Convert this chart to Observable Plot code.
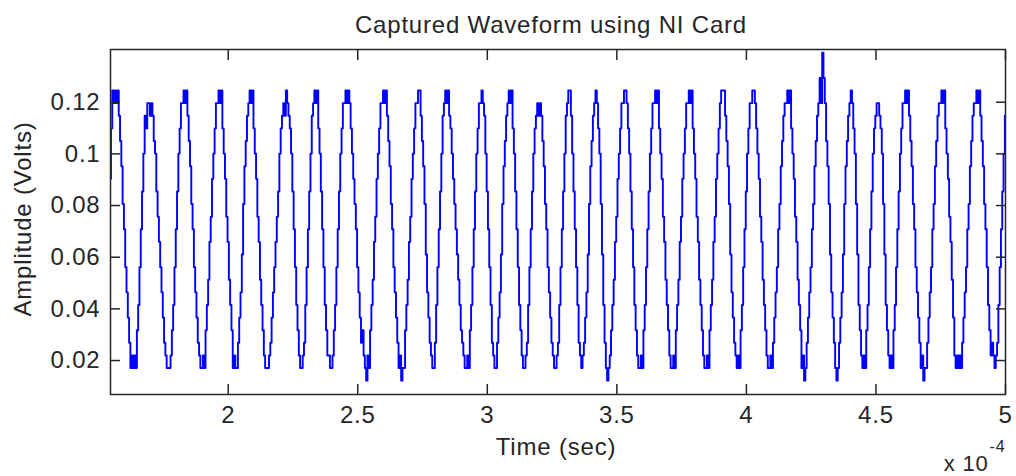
<!DOCTYPE html>
<html><head><meta charset="utf-8">
<script src="https://cdn.jsdelivr.net/npm/d3@7"></script>
<script src="https://cdn.jsdelivr.net/npm/@observablehq/plot@0.6"></script>
<style>
html,body{margin:0;padding:0;background:#fff;}
#chart svg text{letter-spacing:0.8px;}
</style></head><body><div id="chart"></div>
<script>
const title = "Captured Waveform using NI Card";
const xLabel = "Time (sec)";
const yLabel = "Amplitude (Volts)";
const xExponentBase = "x 10";
const xExponent = "-4";
const xTicks = [2, 2.5, 3, 3.5, 4, 4.5, 5];
const xTickLabels = ["2", "2.5", "3", "3.5", "4", "4.5", "5"];
const yTicks = [0.02, 0.04, 0.06, 0.08, 0.1, 0.12];
const yTickLabels = ["0.02", "0.04", "0.06", "0.08", "0.1", "0.12"];
const xDomain = [1.5457, 5.0];
const yDomain = [0.00685, 0.1404];
// sample clock (time in units of 1e-4 s)
const sampleStart = 1.545;
const samplePeriod = 0.005;
// ADC step (12-bit, +/-10 V)
const adcStep = 20 / 4096;
// captured ADC codes
const adcCodes = [
18,22,25,24,25,
24,25,23,21,19,16,14,11,9,7,5,3,4,3,
4,3,6,8,11,14,17,20,23,22,24,24,
23,24,23,21,20,17,15,13,11,9,7,5,4,3,3,
3,4,6,8,11,14,17,20,22,24,24,25,
24,25,23,21,19,16,14,11,9,7,5,4,3,3,
4,3,6,8,10,13,15,18,20,22,24,24,25,
24,25,22,20,18,15,13,10,8,6,3,4,3,
3,5,7,9,12,16,19,21,23,24,25,
24,25,22,20,18,15,13,10,8,6,4,3,3,
3,4,5,7,9,11,13,15,17,20,22,23,24,23,25,
24,23,22,20,17,14,11,8,6,4,3,3,
4,5,8,11,14,17,20,23,24,25,
24,25,22,20,17,14,11,8,6,4,4,3,
3,4,6,8,11,14,17,20,22,24,24,25,
24,25,24,22,20,18,16,14,11,9,7,5,6,4,3,2,
4,3,6,8,10,13,15,18,20,22,24,24,25,
24,25,23,21,19,16,14,11,9,7,5,3,4,2,
3,3,6,8,10,13,15,18,20,22,24,24,25,
25,23,21,19,16,12,9,7,5,4,3,
3,5,8,11,14,17,20,23,24,25,
24,25,23,22,20,18,16,14,12,10,8,6,5,4,3,3,
4,3,6,8,11,14,17,20,22,24,24,25,
24,23,20,17,14,11,8,5,4,3,
3,5,7,9,12,16,19,21,23,24,25,
24,25,22,20,17,14,11,8,6,4,3,3,
4,5,8,11,14,17,20,22,23,24,
23,24,23,21,19,16,14,11,9,7,5,4,3,3,
4,5,8,11,14,17,20,23,24,25,
25,23,20,17,14,11,8,5,4,3,
4,5,7,9,12,16,19,21,23,24,25,
24,22,20,16,12,8,5,3,2,
3,4,6,8,10,13,15,18,20,22,24,24,25,
25,24,22,20,17,14,11,8,6,4,3,3,
4,3,6,8,11,14,17,20,22,24,24,25,
24,25,22,20,18,15,13,10,8,6,4,3,3,
4,3,6,8,10,13,15,18,20,22,24,24,25,
24,25,22,20,18,15,13,10,8,6,4,3,3,
4,3,6,8,10,13,15,18,20,22,24,25,25,
25,23,21,19,16,12,9,7,5,4,3,
4,3,6,8,11,14,17,20,22,24,24,25,
25,24,22,20,18,15,13,10,8,6,4,3,3,
4,3,5,7,9,11,14,16,19,21,23,24,24,25,
24,25,22,20,18,15,13,10,8,6,3,4,2,
3,5,7,9,11,14,16,19,21,23,24,26,24,28,
26,24,21,19,16,12,9,7,5,3,2,
3,5,7,9,12,16,19,21,23,24,25,
24,22,20,16,12,8,6,4,3,
4,3,6,8,11,14,17,20,22,23,24,24,
23,22,20,16,12,8,6,4,3,
4,3,6,8,11,14,17,20,22,24,24,25,
24,25,23,21,19,16,14,11,9,7,5,3,4,2,
3,3,5,7,9,11,14,16,19,21,23,24,24,25,
24,25,22,20,18,15,13,10,7,4,3,4,3,
4,3,5,7,9,11,14,16,19,21,23,24,24,25,
24,25,23,21,19,16,14,11,8,6,4,5,4,3,
4,5,8,11,14,17,20,23
];

const samples = adcCodes.map((c, i) => ({t: sampleStart + i * samplePeriod, v: (c + 0.5) * adcStep}));
const ink = "#262626";

const chart = Plot.plot({
  width: 1016,
  height: 476,
  marginTop: 49,
  marginLeft: 110,
  marginRight: 11,
  marginBottom: 82,
  x: {domain: xDomain},
  y: {domain: yDomain},
  style: {fontFamily: "'Liberation Sans', Arial, sans-serif", fontSize: "24px", color: ink, background: "#fff"},
  marks: [
    Plot.line(samples, {x: "t", y: "v", stroke: "#0000ff", strokeWidth: 1.9, curve: "step", clip: true}),
    Plot.frame({stroke: ink, strokeWidth: 1.5}),
    Plot.axisX({anchor: "bottom", ticks: xTicks, tickSize: -10, tickFormat: () => "", label: null, stroke: ink, strokeWidth: 1.5}),
    Plot.axisX({anchor: "top", ticks: xTicks, tickSize: -10, tickFormat: () => "", label: null, stroke: ink, strokeWidth: 1.5}),
    Plot.axisX({anchor: "bottom", ticks: xTicks, tickSize: 0, tickPadding: 11, tickFormat: d => xTickLabels[xTicks.indexOf(d)], label: null, fontSize: 24}),
    Plot.axisY({anchor: "left", ticks: yTicks, tickSize: -10, tickFormat: () => "", label: null, stroke: ink, strokeWidth: 1.5}),
    Plot.axisY({anchor: "right", ticks: yTicks, tickSize: -10, tickFormat: () => "", label: null, stroke: ink, strokeWidth: 1.5}),
    Plot.axisY({anchor: "left", ticks: yTicks, tickSize: 0, tickPadding: 10, tickFormat: d => yTickLabels[yTicks.indexOf(d)], label: null, fontSize: 24}),
    Plot.text([title], {frameAnchor: "top", textAnchor: "middle", lineAnchor: "bottom", dx: -7, dy: -17, fontSize: 24, fill: ink}),
    Plot.text([xLabel], {frameAnchor: "bottom", textAnchor: "middle", lineAnchor: "top", dx: -2, dy: 43, fontSize: 24, fill: ink}),
    Plot.text([yLabel], {frameAnchor: "left", textAnchor: "middle", rotate: -90, lineAnchor: "bottom", dx: -80, dy: -3, fontSize: 24, fill: ink}),
    Plot.text([xExponentBase], {frameAnchor: "bottom-right", textAnchor: "end", lineAnchor: "bottom", dx: -17, dy: 76, fontSize: 22, fill: ink}),
    Plot.text([xExponent], {frameAnchor: "bottom-right", textAnchor: "start", lineAnchor: "bottom", dx: -16, dy: 57, fontSize: 16, fill: ink})
  ]
});
document.getElementById("chart").appendChild(chart);
</script></body></html>
